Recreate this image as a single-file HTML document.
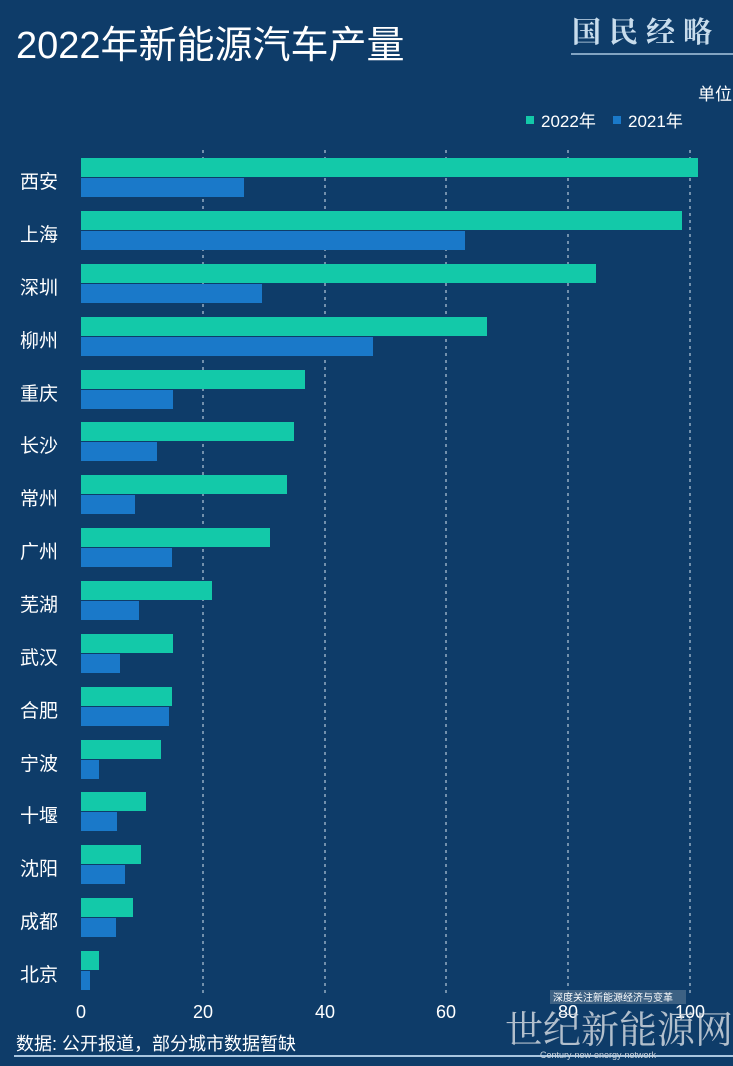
<!DOCTYPE html>
<html><head><meta charset="utf-8"><style>
html,body{margin:0;padding:0;background:#0e3c69;}
svg{display:block;font-family:"Liberation Sans","Noto Sans CJK SC",sans-serif;}
</style></head><body>
<svg width="733" height="1066" viewBox="0 0 733 1066" xmlns="http://www.w3.org/2000/svg">
<rect width="733" height="1066" fill="#0e3c69"/>
<text x="16" y="58" font-size="38" fill="#fff">2022年新能源汽车产量</text>
<text x="572" y="42" font-size="29" font-weight="bold" fill="#c8dcec" font-family="'Noto Serif CJK SC',serif" letter-spacing="8">国民经略</text>
<line x1="571" y1="54" x2="733" y2="54" stroke="#a9c6e0" stroke-width="1.5"/>
<text x="698" y="100" font-size="17" fill="#fff">单位</text>
<rect x="526" y="116" width="8" height="8" fill="#13c9a9"/>
<text x="541" y="127" font-size="17" fill="#fff">2022年</text>
<rect x="613" y="116" width="8" height="8" fill="#1a79c9"/>
<text x="628" y="127" font-size="17" fill="#fff">2021年</text>
<g stroke="#d6e4f0" stroke-width="1" stroke-dasharray="3,4">
<line x1="203" y1="150" x2="203" y2="995"/><line x1="325" y1="150" x2="325" y2="995"/>
<line x1="446" y1="150" x2="446" y2="995"/><line x1="568" y1="150" x2="568" y2="995"/>
<line x1="690" y1="150" x2="690" y2="995"/>
</g>
<g fill="#13c9a9">
<rect x="81" y="158" width="617" height="19"/>
<rect x="81" y="211" width="601" height="19"/>
<rect x="81" y="264" width="515" height="19"/>
<rect x="81" y="317" width="406" height="19"/>
<rect x="81" y="370" width="224" height="19"/>
<rect x="81" y="422" width="213" height="19"/>
<rect x="81" y="475" width="206" height="19"/>
<rect x="81" y="528" width="189" height="19"/>
<rect x="81" y="581" width="131" height="19"/>
<rect x="81" y="634" width="92" height="19"/>
<rect x="81" y="687" width="91" height="19"/>
<rect x="81" y="740" width="80" height="19"/>
<rect x="81" y="792" width="65" height="19"/>
<rect x="81" y="845" width="60" height="19"/>
<rect x="81" y="898" width="52" height="19"/>
<rect x="81" y="951" width="18" height="19"/>
</g>
<g fill="#1a79c9">
<rect x="81" y="178" width="163" height="19"/>
<rect x="81" y="231" width="384" height="19"/>
<rect x="81" y="284" width="181" height="19"/>
<rect x="81" y="337" width="292" height="19"/>
<rect x="81" y="390" width="92" height="19"/>
<rect x="81" y="442" width="76" height="19"/>
<rect x="81" y="495" width="54" height="19"/>
<rect x="81" y="548" width="91" height="19"/>
<rect x="81" y="601" width="58" height="19"/>
<rect x="81" y="654" width="39" height="19"/>
<rect x="81" y="707" width="88" height="19"/>
<rect x="81" y="760" width="18" height="19"/>
<rect x="81" y="812" width="36" height="19"/>
<rect x="81" y="865" width="44" height="19"/>
<rect x="81" y="918" width="35" height="19"/>
<rect x="81" y="971" width="9" height="19"/>
</g>
<g font-size="19" fill="#fff">
<text x="20" y="188">西安</text>
<text x="20" y="241">上海</text>
<text x="20" y="294">深圳</text>
<text x="20" y="347">柳州</text>
<text x="20" y="400">重庆</text>
<text x="20" y="452">长沙</text>
<text x="20" y="505">常州</text>
<text x="20" y="558">广州</text>
<text x="20" y="611">芜湖</text>
<text x="20" y="664">武汉</text>
<text x="20" y="717">合肥</text>
<text x="20" y="770">宁波</text>
<text x="20" y="822">十堰</text>
<text x="20" y="875">沈阳</text>
<text x="20" y="928">成都</text>
<text x="20" y="981">北京</text>
</g>
<g font-size="18" fill="#fff" text-anchor="middle">
<text x="81" y="1018">0</text><text x="203" y="1018">20</text><text x="325" y="1018">40</text>
<text x="446" y="1018">60</text><text x="568" y="1018">80</text><text x="690" y="1018">100</text>
</g>
<text x="16" y="1050" font-size="18" fill="#fff">数据: 公开报道，部分城市数据暂缺</text>
<line x1="14" y1="1056" x2="733" y2="1056" stroke="#a9c6e0" stroke-width="2"/>
<rect x="550" y="990" width="136" height="14" fill="#4a6a8a" opacity="0.8"/>
<text x="553" y="1001" font-size="10" fill="#fff">深度关注新能源经济与变革</text>
<text x="505" y="1043" font-size="38" fill="#cfd6de" opacity="0.85" font-family="'Noto Serif CJK SC',serif">世纪新能源网</text>
<text x="540" y="1058" font-size="9" fill="#cfd6de">Century-new-energy-network</text>
</svg>
</body></html>
